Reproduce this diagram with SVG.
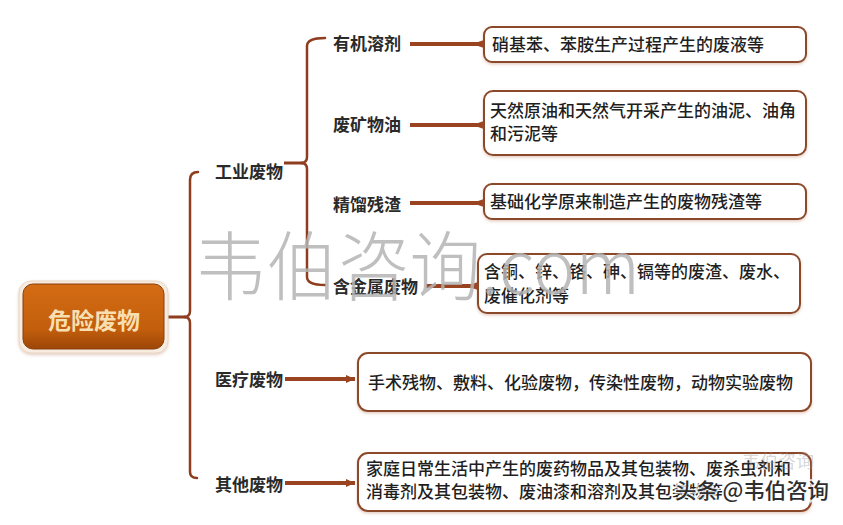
<svg xmlns="http://www.w3.org/2000/svg" width="843" height="525" viewBox="0 0 843 525">
<defs>
<style>
.lbl{font-family:"Noto Sans CJK SC","Noto Sans CJK TC",sans-serif;font-size:17px;font-weight:bold;fill:#2a2a2a}
.bt{font-family:"Noto Sans CJK SC","Noto Sans CJK TC",sans-serif;font-size:17px;font-weight:500;fill:#1f1f1f}
.box{fill:#ffffff;stroke:#8c4a2c;stroke-width:2}
.brace{fill:none;stroke:#8e3d1e;stroke-width:2.5;stroke-linecap:round;stroke-linejoin:round}
.link{fill:none;stroke:#9a4320;stroke-width:4}
.wm{font-family:"Noto Sans CJK SC",sans-serif;font-weight:300;fill:#b4b4b4;fill-opacity:0.85}
</style>
<linearGradient id="rootFill" x1="0" y1="0" x2="0" y2="1">
<stop offset="0" stop-color="#d46c14"/>
<stop offset="0.7" stop-color="#c25e0c"/>
<stop offset="1" stop-color="#9c4608"/>
</linearGradient>
<marker id="ah" markerUnits="userSpaceOnUse" markerWidth="10" markerHeight="10" refX="9" refY="5" orient="auto">
<path d="M0,1 L9,5 L0,9 Z" fill="#9a4320"/>
</marker>
<marker id="flare" markerUnits="userSpaceOnUse" markerWidth="8" markerHeight="10" refX="6" refY="5" orient="auto">
<path d="M0,3 L6,1 L6,9 L0,7 Z" fill="#9a4320"/>
</marker>
<filter id="sh" x="-10%" y="-20%" width="120%" height="140%">
<feDropShadow dx="0" dy="1.5" stdDeviation="1.5" flood-color="#b07050" flood-opacity="0.35"/>
</filter>
</defs>
<rect width="843" height="525" fill="#ffffff"/>

<g id="connectors">
<path class="brace" d="M198,172 Q190,172 190,180 L190,311 Q190,317 184,317 Q190,317 190,323 L190,472 Q190,478 197,478"/>
<line x1="167" y1="317" x2="186" y2="317" stroke="#8e3d1e" stroke-width="3"/>
<path class="brace" d="M325,38 Q307,38 307,46 L307,157 Q307,163 301,163 Q307,163 307,169 L307,277 Q307,285 325,285"/>
<line x1="284" y1="163" x2="303" y2="163" stroke="#8e3d1e" stroke-width="3"/>
<line class="link" x1="410" y1="44" x2="484" y2="44" marker-end="url(#flare)"/>
<line class="link" x1="410" y1="125" x2="484" y2="125" marker-end="url(#flare)"/>
<line class="link" x1="410" y1="203" x2="484" y2="203" marker-end="url(#flare)"/>
<line class="link" x1="426" y1="286" x2="478" y2="286" marker-end="url(#flare)"/>
<line class="link" x1="285" y1="379" x2="355" y2="379" marker-end="url(#ah)"/>
<line class="link" x1="285" y1="483" x2="355" y2="483" marker-end="url(#ah)"/>
</g>

<g id="root">
<rect x="19" y="281" width="149" height="72" rx="12" fill="#f7ece0" stroke="#e8d6c2" stroke-width="1" filter="url(#sh)"/>
<rect x="23" y="284" width="141" height="65" rx="10" fill="url(#rootFill)" stroke="#8a3c0e" stroke-width="1"/>
<text x="94" y="329" text-anchor="middle" font-family="Noto Sans CJK SC,sans-serif" font-size="23" font-weight="bold" fill="#f8dfb2">危险废物</text>
</g>

<g id="industrial"><text class="lbl" x="215" y="178">工业废物</text></g>
<g id="medical"><text class="lbl" x="215" y="386">医疗废物</text></g>
<g id="other"><text class="lbl" x="215" y="491">其他废物</text></g>

<g id="organic"><text class="lbl" x="333" y="50">有机溶剂</text></g>
<g id="mineral"><text class="lbl" x="333" y="131">废矿物油</text></g>
<g id="distill"><text class="lbl" x="333" y="211">精馏残渣</text></g>
<g id="metal"><text class="lbl" x="333" y="293">含金属废物</text></g>

<g id="box1">
<rect class="box" x="484" y="27" width="322" height="35" rx="8" filter="url(#sh)"/>
<text class="bt" x="492" y="51">硝基苯、苯胺生产过程产生的废液等</text>
</g>
<g id="box2">
<rect class="box" x="484" y="91" width="322" height="64" rx="9" filter="url(#sh)"/>
<text class="bt" x="490" y="117">天然原油和天然气开采产生的油泥、油角</text>
<text class="bt" x="490" y="140">和污泥等</text>
</g>
<g id="box3">
<rect class="box" x="484" y="184" width="322" height="35" rx="8" filter="url(#sh)"/>
<text class="bt" x="490" y="208">基础化学原来制造产生的废物残渣等</text>
</g>
<g id="box4">
<rect class="box" x="478" y="254" width="322" height="59" rx="9" filter="url(#sh)"/>
<text class="bt" x="484" y="278">含铜、锌、铬、砷、镉等的废渣、废水、</text>
<text class="bt" x="484" y="302">废催化剂等</text>
</g>
<g id="box5">
<rect class="box" x="358" y="353" width="453" height="58" rx="10" filter="url(#sh)"/>
<text class="bt" x="368" y="389">手术残物、敷料、化验废物，传染性废物，动物实验废物</text>
</g>
<g id="box6">
<rect class="box" x="358" y="453" width="453" height="58" rx="10" filter="url(#sh)"/>
<text class="bt" x="366" y="475">家庭日常生活中产生的废药物品及其包装物、废杀虫剂和</text>
<text class="bt" x="366" y="498">消毒剂及其包装物、废油漆和溶剂及其包装物等</text>
</g>

<g id="watermark">
<text class="wm" x="195" y="294" font-size="75" textLength="445" lengthAdjust="spacingAndGlyphs">韦伯咨询.com</text>
<text x="742" y="468" font-family="Noto Sans CJK SC,sans-serif" font-size="18" fill="#9a9a9a" fill-opacity="0.4">韦伯咨询</text>
<text x="675" y="498" font-family="Noto Sans CJK SC,sans-serif" font-size="21" font-weight="500" fill="#2e2e2e" stroke="#ffffff" stroke-width="3" paint-order="stroke" stroke-opacity="0.8" textLength="154" lengthAdjust="spacingAndGlyphs">头条 @韦伯咨询</text>
</g>
</svg>
